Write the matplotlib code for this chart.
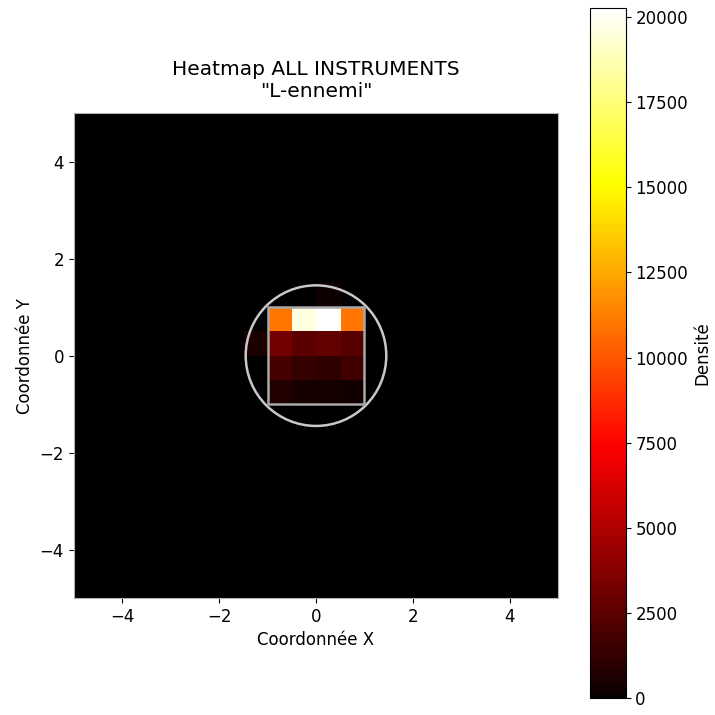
import numpy as np
import matplotlib.pyplot as plt
from matplotlib.colors import ListedColormap
from matplotlib.patches import Circle, Rectangle

# Grid of the heatmap: 20 x 20 bins from -5 to 5
n_bins = 20
lim = 5

# Non-zero bins (row = y bin index from bottom, col = x bin index from left)
block_rows = [11, 10, 9, 8]          # y: 0.5..1, 0..0.5, -0.5..0, -1..-0.5
block_cols = [8, 9, 10, 11]          # x: -1..-0.5, -0.5..0, 0..0.5, 0.5..1
block_values = [
    [11000, 19600, 20270, 11000],
    [3200, 2470, 2760, 2300],
    [1890, 1300, 1160, 1740],
    [730, 440, 350, 290],
]
extra_cells = [(10, 7, 500), (12, 10, 220)]  # (row, col, value)

density = np.zeros((n_bins, n_bins))
for i, r in enumerate(block_rows):
    for j, c in enumerate(block_cols):
        density[r, c] = block_values[i][j]
for r, c, v in extra_cells:
    density[r, c] = v

# 'hot' but starting from pure black
hot_colors = plt.cm.hot(np.linspace(0, 1, 256))
hot_colors[0] = [0, 0, 0, 1]
cmap = ListedColormap(hot_colors)

fig = plt.figure(figsize=(7.15, 7.15), dpi=100)
ax = fig.add_axes([0.1007, 0.1636, 0.6825, 0.678])
cax = fig.add_axes([0.825, 0.0238, 0.05, 0.965])

im = ax.imshow(density, cmap=cmap, origin='lower', extent=[-lim, lim, -lim, lim],
               vmin=0, vmax=density.max(), interpolation='nearest')

ax.add_patch(Circle((0, 0), 1.45, fill=False, edgecolor='#c8c8c8', linewidth=1.8))
ax.add_patch(Rectangle((-1, -1), 2, 2, fill=False, edgecolor='#a8a8a8', linewidth=1.8))

ax.set_xlim(-lim, lim)
ax.set_ylim(-lim, lim)
ax.set_xticks([-4, -2, 0, 2, 4])
ax.set_yticks([-4, -2, 0, 2, 4])
ax.tick_params(labelsize=12)
for s in ax.spines.values():
    s.set_edgecolor('#b0b0b0')
ax.set_xlabel('Coordonnée X', fontsize=12)
ax.set_ylabel('Coordonnée Y', fontsize=12)
ax.set_title('Heatmap ALL INSTRUMENTS\n"L-ennemi"', fontsize=14.5, pad=12)

cb = fig.colorbar(im, cax=cax)
cb.set_ticks([0, 2500, 5000, 7500, 10000, 12500, 15000, 17500, 20000])
cb.ax.tick_params(labelsize=12)
cb.set_label('Densité', fontsize=12)

fig.savefig('out.png', dpi=100)
